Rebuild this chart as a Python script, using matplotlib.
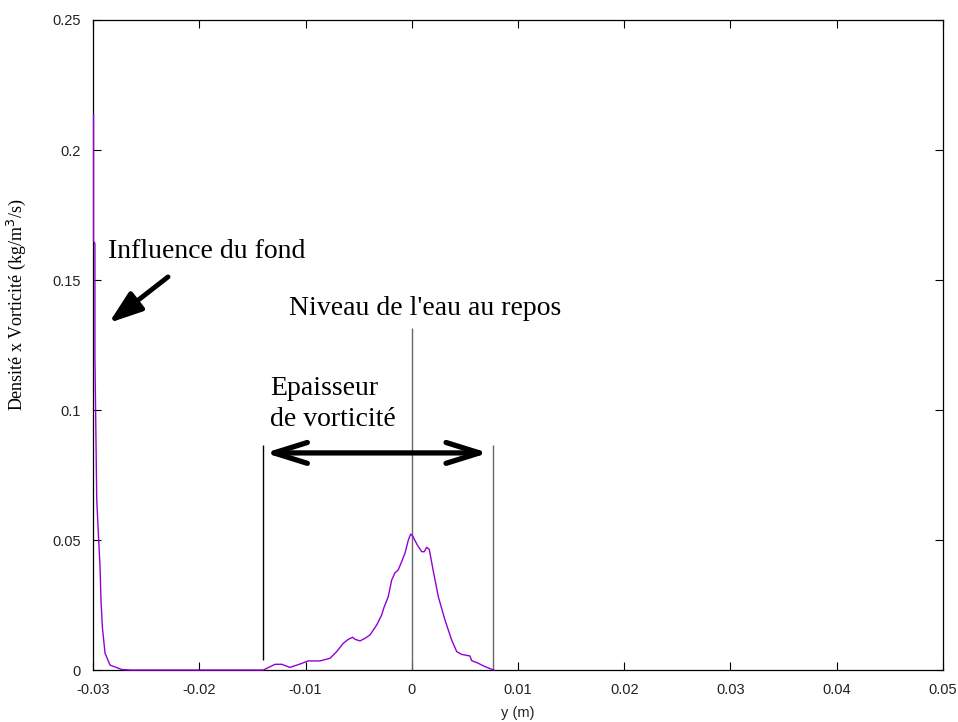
import matplotlib
matplotlib.use('Agg')
import matplotlib.pyplot as plt

# donnees
y_pos = [-0.02995, -0.02995, -0.02982, -0.02982, -0.02965, -0.0295, -0.02934,
         -0.02925, -0.02912, -0.02887, -0.0284, -0.0273, -0.0265,
         -0.01397, -0.01287, -0.01224, -0.01146, -0.01052, -0.00974, -0.00864,
         -0.00769, -0.00706, -0.00644, -0.00597, -0.00556, -0.00534, -0.00487,
         -0.0044, -0.00393, -0.0033, -0.00283, -0.00261, -0.00221, -0.00189,
         -0.00158, -0.00127, -0.00095, -0.00064, -0.00032, -0.0001, 0.00009,
         0.00052, 0.00094, 0.00118, 0.0014, 0.00165, 0.00203, 0.0025, 0.00313,
         0.00376, 0.00423, 0.0047, 0.00548, 0.00564, 0.00626, 0.00689,
         0.00752, 0.00774]
dens_vort = [0.2135, 0.165, 0.164, 0.12, 0.0654, 0.0527, 0.0396,
             0.0269, 0.0165, 0.0065, 0.0019, 0.0002, 0.0,
             0.0, 0.0022, 0.0022, 0.001, 0.0023, 0.0035, 0.0035,
             0.0045, 0.0071, 0.0103, 0.0118, 0.0126, 0.0118, 0.0112,
             0.0122, 0.0135, 0.0173, 0.0212, 0.0241, 0.0282, 0.0346,
             0.0374, 0.0385, 0.0417, 0.0449, 0.050, 0.0523, 0.0515,
             0.0481, 0.0455, 0.0455, 0.0472, 0.0464, 0.038, 0.0282, 0.0192,
             0.0115, 0.0071, 0.006, 0.0054, 0.0036, 0.0026, 0.0013,
             0.0003, 0.0]

xticks = [-0.03, -0.02, -0.01, 0, 0.01, 0.02, 0.03, 0.04, 0.05]
xticklabels = ['-0.03', '-0.02', '-0.01', '0', '0.01', '0.02', '0.03', '0.04', '0.05']
yticks = [0, 0.05, 0.1, 0.15, 0.2, 0.25]
yticklabels = ['0', '0.05', '0.1', '0.15', '0.2', '0.25']

serif = 'Liberation Serif'

fig = plt.figure(figsize=(9.58, 7.22), dpi=100)
ax = fig.add_axes([0.0971, 0.072, 0.8872, 0.9003])

ax.plot(y_pos, dens_vort, color='#9400D3', lw=1, zorder=3, clip_on=False)

ax.set_xlim(-0.03, 0.05)
ax.set_ylim(0, 0.25)
ax.set_xticks(xticks)
ax.set_xticklabels(xticklabels, family='Liberation Sans')
ax.set_yticks(yticks)
ax.set_yticklabels(yticklabels, family='Liberation Sans')
ax.tick_params(direction='in', length=6, top=True, right=True, labelsize=10.5,
               pad=9, width=0.8, labelcolor='#222222')
for s in ax.spines.values():
    s.set_linewidth(0.9)
    s.set_zorder(2)

ax.set_xlabel('y (m)', family='Liberation Sans', fontsize=10.5, labelpad=7,
              color='#222222')
ax.set_ylabel('Densité x Vorticité (kg/m$^3$/s)', family=serif, fontsize=13)
ax.yaxis.set_label_coords(-0.076, 0.5615)

# traits verticaux
ax.vlines([-0.014, 0.0, 0.00765], [0.0038, 0.0, 0.0], [0.0865, 0.1315, 0.0865],
          colors=['black', '0.4', '0.4'], lw=1)

# fleche epaisseur
ax.annotate('', xy=(-0.0138, 0.0835), xytext=(0.0072, 0.0835),
            arrowprops=dict(arrowstyle='<->, head_length=2.4, head_width=0.75',
                            lw=3.8, color='black', shrinkA=0, shrinkB=0))
ax.text(-0.0133, 0.1022, 'Epaisseur\nde vorticité', family=serif, fontsize=20,
        ha='left', va='center', linespacing=1.3)

ax.text(0.00125, 0.1392, "Niveau de l'eau au repos", family=serif, fontsize=20,
        ha='center', va='center')

# fleche fond
ax.annotate('', xy=(-0.0285, 0.1335), xytext=(-0.02294, 0.1512),
            arrowprops=dict(arrowstyle='-|>, head_length=2.0, head_width=0.7',
                            lw=3.5, color='black', shrinkA=0, shrinkB=0))
ax.text(-0.02859, 0.1608, 'Influence du fond', family=serif, fontsize=20,
        ha='left', va='center')

fig.savefig('out.png', dpi=100)
